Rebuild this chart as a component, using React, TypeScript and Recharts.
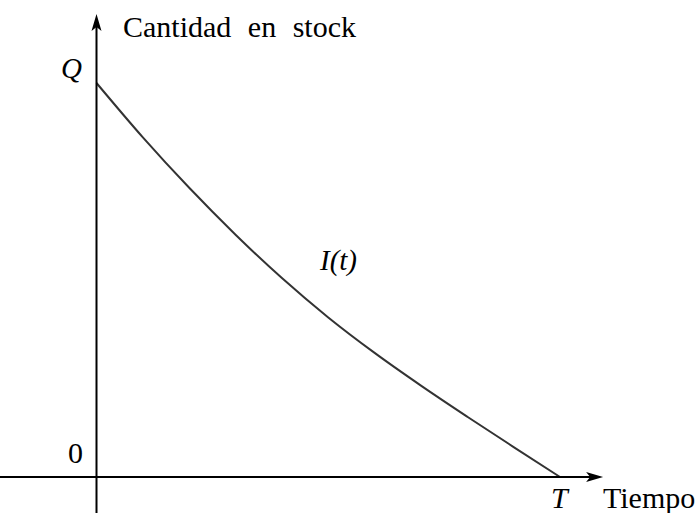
import React from 'react';
import { LineChart, Line, XAxis, YAxis, ReferenceLine } from 'recharts';

// time as % of T, stock as % of Q
const tiempo = [0, 10, 20, 30, 40, 50, 60, 70, 80, 90, 100];
const stock = [100, 86.2, 73.4, 61.5, 50.5, 40.5, 31.5, 23.2, 15.3, 7.6, 0];

const X_DOMAIN: [number, number] = [-20.82, 129.77];
const Y_DOMAIN: [number, number] = [-9.14, 121.07];
const X_ARROW_TIP = 109.3;
const Y_ARROW_TIP = 117.5;

const data = tiempo.map((t, i) => ({ t, stock: stock[i] }));

const SERIF = 'Liberation Serif';

const Arrow = (props: any) => {
    const { x1, y1, x2, y2 } = props;
    const dx = x2 - x1;
    const dy = y2 - y1;
    const len = Math.sqrt(dx * dx + dy * dy) || 1;
    const ux = dx / len;
    const uy = dy / len;
    const headLen = 17;
    const headW = 5;
    const bx = x2 - ux * headLen;
    const by = y2 - uy * headLen;
    const pts = [
        `${x2},${y2}`,
        `${bx - uy * headW},${by + ux * headW}`,
        `${bx + ux * 4},${by + uy * 4}`,
        `${bx + uy * headW},${by - ux * headW}`,
    ].join(' ');
    return (
        <g>
            <line x1={x1} y1={y1} x2={bx + ux * 4} y2={by + uy * 4} stroke="#000" strokeWidth={2} />
            <polygon points={pts} fill="#000" />
        </g>
    );
};

export default function App() {
    return (
        <div style={{ position: 'absolute', left: 0, top: 0, background: '#fff', fontFamily: SERIF }}>
            <LineChart width={698} height={513} data={data} margin={{ top: 0, right: 0, bottom: 0, left: 0 }}>
                <XAxis dataKey="t" type="number" domain={X_DOMAIN} allowDataOverflow hide />
                <YAxis type="number" domain={Y_DOMAIN} allowDataOverflow hide />
                <Line
                    type="monotone"
                    dataKey="stock"
                    stroke="#333"
                    strokeWidth={2}
                    dot={false}
                    activeDot={false}
                    isAnimationActive={false}
                />
                <ReferenceLine
                    segment={[{ x: X_DOMAIN[0], y: 0 }, { x: X_ARROW_TIP, y: 0 }]}
                    shape={Arrow}
                    ifOverflow="visible"
                />
                <ReferenceLine
                    segment={[{ x: 0, y: Y_DOMAIN[0] }, { x: 0, y: Y_ARROW_TIP }]}
                    shape={Arrow}
                    ifOverflow="visible"
                />
                <g fontFamily={SERIF} fill="#000">
                    <text x={123} y={36.5} fontSize={30} wordSpacing={9}>
                        Cantidad en stock
                    </text>
                    <text x={61} y={78} fontSize={29} fontStyle="italic">
                        Q
                    </text>
                    <text x={68} y={463} fontSize={30}>
                        0
                    </text>
                    <text x={551} y={508} fontSize={30} fontStyle="italic">
                        T
                    </text>
                    <text x={603} y={508} fontSize={30}>
                        Tiempo
                    </text>
                    <text x={320} y={270} fontSize={29} fontStyle="italic">
                        I(t)
                    </text>
                </g>
            </LineChart>
        </div>
    );
}
